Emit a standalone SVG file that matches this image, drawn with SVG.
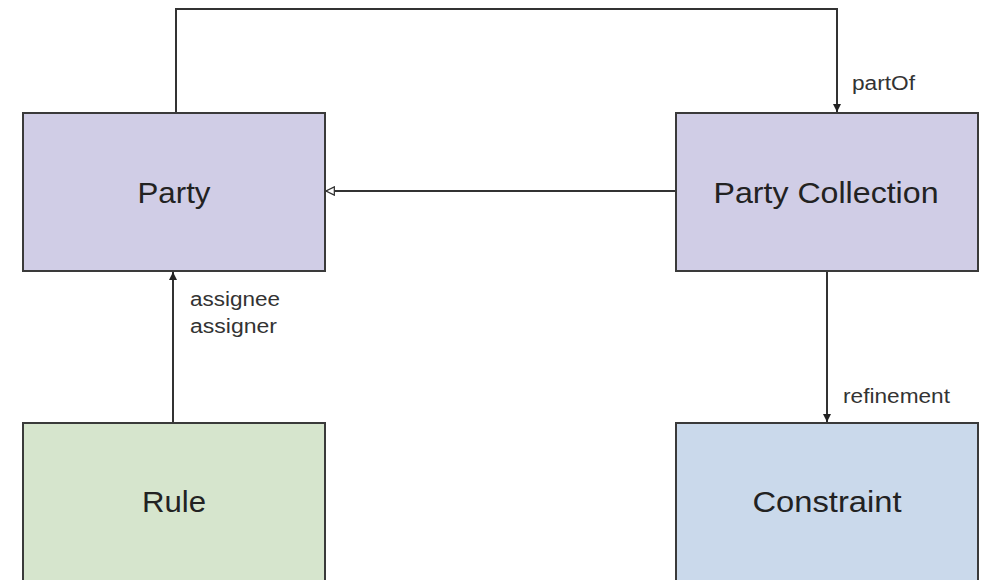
<svg xmlns="http://www.w3.org/2000/svg" width="982" height="580" viewBox="0 0 982 580">
  <style>
    .box { stroke: #3a3a3a; stroke-width: 2; }
    .party { fill: #d0cde6; }
    .rule { fill: #d6e5cd; }
    .constraint { fill: #cad9eb; }
    .name { font-family: "Liberation Sans", Arial, sans-serif; font-size: 30px; fill: #222; text-anchor: middle; }
    .lbl { font-family: "Liberation Sans", Arial, sans-serif; font-size: 20px; fill: #333; }
    .edge { fill: none; stroke: #333; stroke-width: 2; }
  </style>
  <defs>
    <marker id="solid" viewBox="0 0 10 10" refX="10" refY="5" markerWidth="8" markerHeight="8" orient="auto" markerUnits="userSpaceOnUse">
      <path d="M0,0 L10,5 L0,10 Z" fill="#222"/>
    </marker>
    <marker id="hollow" viewBox="0 0 12 12" refX="11" refY="6" markerWidth="10" markerHeight="10" orient="auto" markerUnits="userSpaceOnUse">
      <path d="M1,1 L11,6 L1,11 Z" fill="#fff" stroke="#333" stroke-width="1.5"/>
    </marker>
  </defs>
  <rect width="982" height="580" fill="#fff"/>

  <g id="connectors">
    <path class="edge" d="M176,113 V9 H837 V112" marker-end="url(#solid)"/>
    <path class="edge" d="M676,191 H326" marker-end="url(#hollow)"/>
    <path class="edge" d="M173,423 V272" marker-end="url(#solid)"/>
    <path class="edge" d="M827,271 V422" marker-end="url(#solid)"/>
    <text class="lbl" x="852" y="90" textLength="63" lengthAdjust="spacingAndGlyphs">partOf</text>
    <text class="lbl" x="190" y="306" textLength="90" lengthAdjust="spacingAndGlyphs">assignee</text>
    <text class="lbl" x="190" y="333" textLength="87" lengthAdjust="spacingAndGlyphs">assigner</text>
    <text class="lbl" x="843" y="403" textLength="107" lengthAdjust="spacingAndGlyphs">refinement</text>
  </g>

  <g id="party">
    <rect class="box party" x="23" y="113" width="302" height="158"/>
    <text class="name" x="174" y="203" textLength="73" lengthAdjust="spacingAndGlyphs">Party</text>
  </g>
  <g id="party-collection">
    <rect class="box party" x="676" y="113" width="302" height="158"/>
    <text class="name" x="826" y="203" textLength="225" lengthAdjust="spacingAndGlyphs">Party Collection</text>
  </g>
  <g id="rule">
    <rect class="box rule" x="23" y="423" width="302" height="160"/>
    <text class="name" x="174" y="512" textLength="64" lengthAdjust="spacingAndGlyphs">Rule</text>
  </g>
  <g id="constraint">
    <rect class="box constraint" x="676" y="423" width="302" height="160"/>
    <text class="name" x="827" y="512" textLength="149" lengthAdjust="spacingAndGlyphs">Constraint</text>
  </g>
</svg>
